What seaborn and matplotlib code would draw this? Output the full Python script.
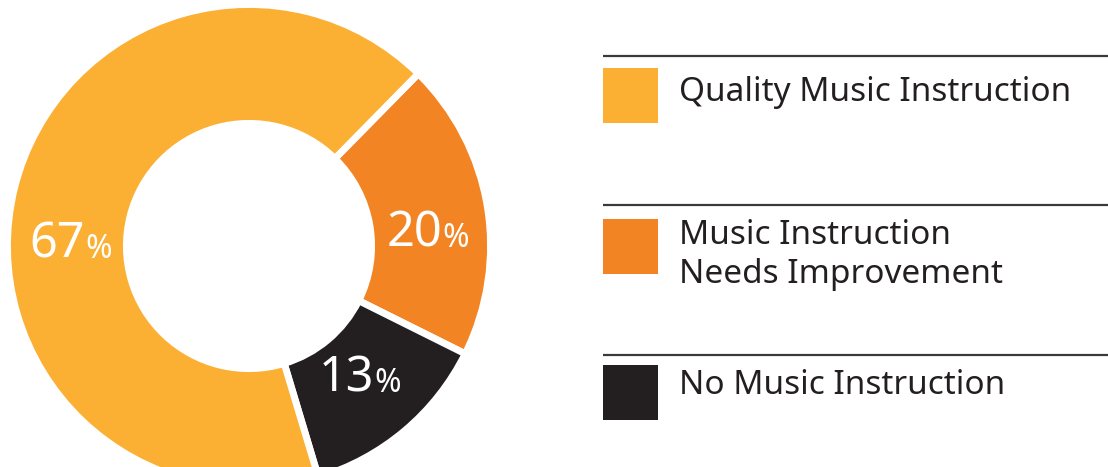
import matplotlib
matplotlib.use("Agg")
import matplotlib.pyplot as plt
from matplotlib import transforms
from matplotlib.patches import Rectangle
import seaborn as sns

# Survey shares (percent)
categories = ["Quality Music Instruction",
              "Music Instruction\nNeeds Improvement",
              "No Music Instruction"]
shares = [67, 20, 13]
colors = ["#FBB034", "#F38423", "#231F20"]

sns.set_theme(style="white")
plt.rcParams["font.family"] = ["Noto Sans", "DejaVu Sans"]

W, H, DPI = 1108, 467, 100
fig = plt.figure(figsize=(W / DPI, H / DPI), dpi=DPI)
fig.patch.set_facecolor("white")

# full-figure overlay in pixel units for the legend block
ax_leg = fig.add_axes([0, 0, 1, 1])
ax_leg.set_xlim(0, W)
ax_leg.set_ylim(H, 0)
ax_leg.axis("off")

# donut axes: centre and radius in pixels
cx, cy, R = 249, 246, 238
ax = fig.add_axes([(cx - R) / W, (H - cy - R) / H, 2 * R / W, 2 * R / H])

# draw clockwise starting at the orange slice
order = [1, 2, 0]
wedges, _ = ax.pie([shares[i] for i in order],
                   colors=[colors[i] for i in order],
                   startangle=45.5, counterclock=False, radius=1.015,
                   wedgeprops=dict(width=0.50, edgecolor="white", linewidth=5))
ax.set_xlim(-1, 1)
ax.set_ylim(-1, 1)
ax.set_aspect("equal")
ax.axis("off")

# value labels: large number with a smaller percent sign
label_pos = {0: (-0.75, -0.05), 1: (0.752, -0.004), 2: (0.466, -0.613)}
renderer = fig.canvas.get_renderer()
for i, v in enumerate(shares):
    x, y = label_pos[i]
    t_num = ax.text(x, y, str(v), color="white", fontsize=35,
                    ha="left", va="baseline")
    t_pct = ax.text(x, y, "%", color="white", fontsize=23,
                    ha="left", va="baseline")
    w_num = t_num.get_window_extent(renderer).width
    w_pct = t_pct.get_window_extent(renderer).width
    gap = 0
    total = w_num + gap + w_pct
    shift_pts = -total / 2 * 72 / DPI
    t_num.set_transform(transforms.offset_copy(ax.transData, fig=fig,
                                               x=shift_pts, y=0, units="points"))
    t_pct.set_transform(transforms.offset_copy(ax.transData, fig=fig,
                                               x=shift_pts + (w_num + gap) * 72 / DPI,
                                               y=0, units="points"))

# legend block
rule_y = [56, 205, 355]
box_top = [68, 219, 365]
text_base = [101, 244, 394]
for i, lab in enumerate(categories):
    ax_leg.plot([603, W], [rule_y[i], rule_y[i]], color="#3a3a3a", lw=1.6,
                solid_capstyle="butt")
    ax_leg.add_patch(Rectangle((603, box_top[i]), 55, 55, color=colors[i], lw=0))
    for k, line in enumerate(lab.split("\n")):
        ax_leg.text(679, text_base[i] + 39 * k, line, color="#231F20",
                    fontsize=24, ha="left", va="baseline")

fig.savefig("out.png", dpi=DPI, facecolor="white")
